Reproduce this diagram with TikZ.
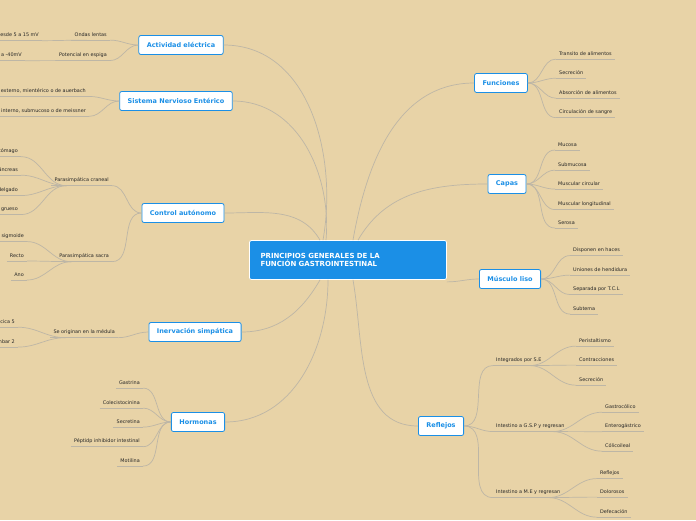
\documentclass[tikz,border=0pt]{standalone}
\usepackage{fontspec}
\setmainfont{DejaVu Sans}
\definecolor{bgtan}{HTML}{E8D3A7}
\definecolor{mapblue}{HTML}{1B8FE6}
\definecolor{linkgray}{HTML}{BDB6A6}
\tikzset{
  central/.style={draw=white, fill=mapblue, rounded corners=2pt, line width=0.8pt,
    text=white, font=\bfseries\fontsize{7}{8.2}\selectfont, align=left,
    minimum width=197pt, minimum height=39pt, text width=175pt},
  topic/.style={draw=mapblue, fill=white, rounded corners=2pt, line width=0.8pt,
    text=mapblue, font=\bfseries\fontsize{6.5}{7}\selectfont, minimum height=19pt, inner xsep=8pt},
  leaf/.style={font=\fontsize{4.9}{5}\selectfont, text=black!85, inner xsep=3pt, inner ysep=3pt},
  link/.style={draw=linkgray, line width=0.7pt},
}
\begin{document}
\begin{tikzpicture}[x=1pt, y=-1pt]
  \fill[bgtan] (0,0) rectangle (696,520);
  \useasboundingbox (0,0) rectangle (696,520);

  \node[central] (c) at (348,260) {PRINCIPIOS GENERALES DE LA\\FUNCIÓN GASTROINTESTINAL};

  % topics
  \node[topic] (act) at (181,45) {Actividad eléctrica};
  \node[topic] (sne) at (176,101) {Sistema Nervioso Entérico};
  \node[topic] (ctl) at (183,213) {Control autónomo};
  \node[topic] (ine) at (195,332) {Inervación simpática};
  \node[topic] (hor) at (198,422) {Hormonas};
  \node[topic] (fun) at (501,83) {Funciones};
  \node[topic] (cap) at (507,184) {Capas};
  \node[topic] (mus) at (510,279) {Músculo liso};
  \node[topic] (ref) at (441,426) {Reflejos};

  \draw[link] ([xshift=-25]c.north) to[out=80,in=0] (act.east);
  \draw[link] ([xshift=-22]c.north) to[out=85,in=0] (sne.east);
  \draw[link] ([xshift=-28]c.north) to[out=120,in=0] (ctl.east);
  \draw[link] ([xshift=-28]c.south) to[out=-120,in=0] (ine.east);
  \draw[link] ([xshift=-20]c.south) to[out=-90,in=0] (hor.east);
  \draw[link] ([xshift=5]c.north) to[out=80,in=180] (fun.west);
  \draw[link] ([xshift=10]c.north) to[out=60,in=180] (cap.west);
  \draw[link] ([yshift=-2]c.south east) to[out=0,in=180] (mus.west);
  \draw[link] ([xshift=5]c.south) to[out=-80,in=180] (ref.west);

  % left leaves
  \foreach \name/\txt/\px/\py/\up in {
      a1/Ondas lentas/110/35/act, a2/Potencial en espiga/110/55/act,
      s1/{Plexo externo, mientérico o de auerbach}/89/91/sne,
      s2/{Plexo interno, submucoso o de meissner}/89/111/sne,
      k1/Parasimpática craneal/112/180/ctl, k2/Parasimpática sacra/112/256/ctl,
      i1/Se originan en la médula/118/332/ine,
      h1/Gastrina/143/383/hor, h2/Colecistocinina/143/403/hor,
      h3/Secretina/143/422/hor, h4/Péptidp inhibidor intestinal/143/441/hor,
      h5/Motilina/143/461/hor} {
    \node[leaf, anchor=east] (\name) at (\px,\py) {\txt};
    \draw[link] (\name.south west) -- (\name.south east);
    \draw[link] (\up.west) to[out=180,in=0] (\name.south east);
  }
  \foreach \name/\txt/\px/\py/\up in {
      a11/Despolarización desde 5 a 15 mV/42/35/a1,
      a21/Despolarización a -40mV/25/55/a2,
      k11/Estómago/21/151/k1, k12/Páncreas/21/170/k1,
      k13/Intestino delgado/21/190/k1, k14/Intestino grueso/21/209/k1,
      k21/Colon sigmoide/27/236/k2, k22/Recto/27/256/k2, k23/Ano/27/275/k2,
      i11/Torácica 5/18/322/i1, i12/Lumbar 2/18/342/i1} {
    \node[leaf, anchor=east] (\name) at (\px,\py) {\txt};
    \draw[link] (\name.south west) -- (\name.south east);
    \draw[link] ([xshift=15]\up.south west) to[out=180,in=0] (\name.south east);
  }

  % right leaves
  \foreach \name/\txt/\px/\py/\up in {
      f1/Transito de alimentos/556/54/fun, f2/Secreción/556/73/fun,
      f3/Absorción de alimentos/556/93/fun, f4/Circulación de sangre/556/112/fun,
      p1/Mucosa/555/145/cap, p2/Submucosa/555/165/cap, p3/Muscular circular/555/184/cap,
      p4/Muscular longitudinal/555/204/cap, p5/Serosa/555/223/cap,
      m1/Disponen en haces/570/250/mus, m2/Uniones de hendidura/570/270/mus,
      m3/Separada por T.C.L/570/289/mus, m4/Subtema/570/309/mus,
      r1/Integrados por S.E/493/360/ref, r2/Intestino a G.S.P y regresan/493/426/ref,
      r3/Intestino a M.E y regresan/493/492/ref} {
    \node[leaf, anchor=west] (\name) at (\px,\py) {\txt};
    \draw[link] (\name.south west) -- (\name.south east);
    \draw[link] (\up.east) to[out=0,in=180] (\name.south west);
  }
  \foreach \name/\txt/\px/\py/\up in {
      r11/Peristaltismo/576/341/r1, r12/Contracciones/576/360/r1, r13/Secreción/576/380/r1,
      r21/Gastrocólico/602/407/r2, r22/Enterogástrico/602/426/r2, r23/Cólicoileal/602/446/r2,
      r31/Reflejos/597/473/r3, r32/Dolorosos/597/492/r3, r33/Defecación/597/512/r3} {
    \node[leaf, anchor=west] (\name) at (\px,\py) {\txt};
    \draw[link] (\name.south west) -- (\name.south east);
    \draw[link] ([xshift=-15]\up.south east) to[out=0,in=180] (\name.south west);
  }
\end{tikzpicture}
\end{document}
